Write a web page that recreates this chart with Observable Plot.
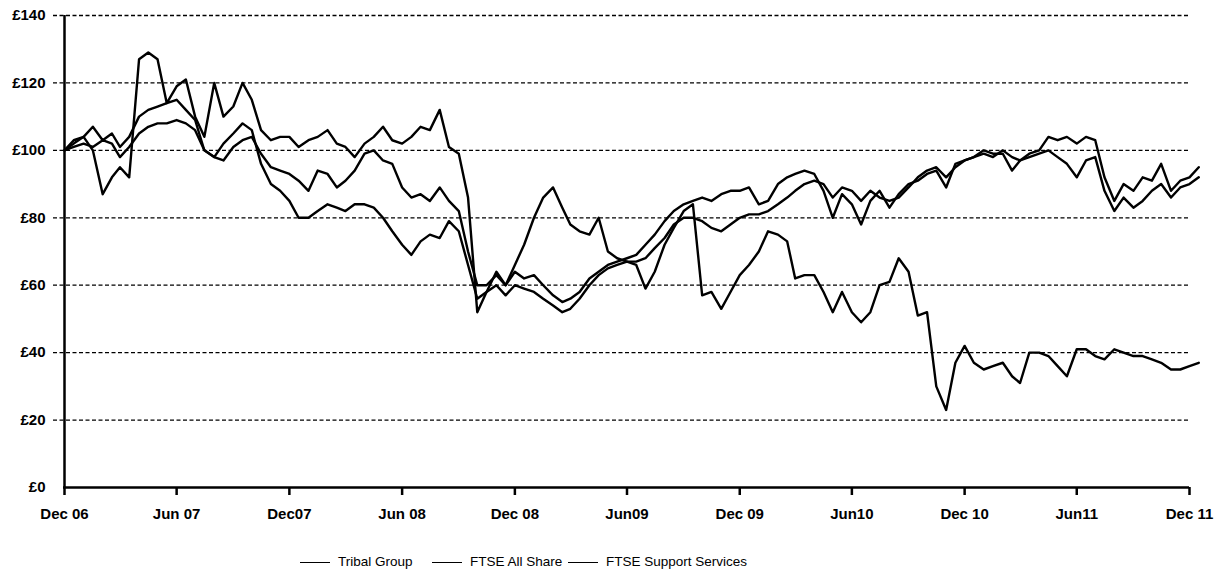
<!DOCTYPE html>
<html><head><meta charset="utf-8">
<script src="https://cdn.jsdelivr.net/npm/d3@7"></script>
<script src="https://cdn.jsdelivr.net/npm/@observablehq/plot@0.6"></script>
<style>
body{margin:0;background:#fff;font-family:"Liberation Sans",Arial,sans-serif;}
#legend{position:relative;width:1220px;height:31px;font-size:13.5px;color:#000;}
.item{position:absolute;top:14px;height:16px;line-height:16px;display:flex;align-items:center;gap:8px;white-space:nowrap;}
.swatch{width:30px;height:0;border-top:1.6px solid #000;}
</style></head><body>
<div id="chart"></div>
<div id="legend"></div>
<script>
const dates = [
"2006-12-01","2006-12-16","2007-01-01","2007-01-16","2007-02-01","2007-02-16","2007-03-01","2007-03-16","2007-04-01","2007-04-16","2007-05-01","2007-05-16",
"2007-06-01","2007-06-16","2007-07-01","2007-07-16","2007-08-01","2007-08-16","2007-09-01","2007-09-16","2007-10-01","2007-10-16","2007-11-01","2007-11-16",
"2007-12-01","2007-12-16","2008-01-01","2008-01-16","2008-02-01","2008-02-16","2008-03-01","2008-03-16","2008-04-01","2008-04-16","2008-05-01","2008-05-16",
"2008-06-01","2008-06-16","2008-07-01","2008-07-16","2008-08-01","2008-08-16","2008-09-01","2008-09-16","2008-10-01","2008-10-16","2008-11-01","2008-11-16",
"2008-12-01","2008-12-16","2009-01-01","2009-01-16","2009-02-01","2009-02-16","2009-03-01","2009-03-16","2009-04-01","2009-04-16","2009-05-01","2009-05-16",
"2009-06-01","2009-06-16","2009-07-01","2009-07-16","2009-08-01","2009-08-16","2009-09-01","2009-09-16","2009-10-01","2009-10-16","2009-11-01","2009-11-16",
"2009-12-01","2009-12-16","2010-01-01","2010-01-16","2010-02-01","2010-02-16","2010-03-01","2010-03-16","2010-04-01","2010-04-16","2010-05-01","2010-05-16",
"2010-06-01","2010-06-16","2010-07-01","2010-07-16","2010-08-01","2010-08-16","2010-09-01","2010-09-16","2010-10-01","2010-10-16","2010-11-01","2010-11-16",
"2010-12-01","2010-12-16","2011-01-01","2011-01-16","2011-02-01","2011-02-16","2011-03-01","2011-03-16","2011-04-01","2011-04-16","2011-05-01","2011-05-16",
"2011-06-01","2011-06-16","2011-07-01","2011-07-16","2011-08-01","2011-08-16","2011-09-01","2011-09-16","2011-10-01","2011-10-16","2011-11-01","2011-11-16",
"2011-12-01","2011-12-16"
];
const tribalGroup = [
100,103,104,100,87,92,95,92,127,129,127,114,
119,121,110,104,120,110,113,120,115,106,103,104,
104,101,103,104,106,102,101,98,102,104,107,103,
102,104,107,106,112,101,99,86,52,58,64,60,
66,72,80,86,89,83,78,76,75,80,70,68,
67,66,59,64,72,77,82,84,57,58,53,58,
63,66,70,76,75,73,62,63,63,58,52,58,
52,49,52,60,61,68,64,51,52,30,23,37,
42,37,35,36,37,33,31,40,40,39,36,33,
41,41,39,38,41,40,39,39,38,37,35,35,
36,37
];
const ftseAllShare = [
100,101,102,101,103,102,98,101,105,107,108,108,
109,108,106,100,98,97,101,103,104,99,95,94,
93,91,88,94,93,89,91,94,99,100,97,96,
89,86,87,85,89,85,82,70,60,60,63,60,
64,62,63,60,57,55,56,58,62,64,66,67,
68,69,72,75,79,82,84,85,86,85,87,88,
88,89,84,85,90,92,93,94,93,88,80,87,
84,78,85,88,83,87,90,91,93,94,89,96,
97,98,100,99,99,94,97,98,99,100,98,96,
92,97,98,88,82,86,83,85,88,90,86,89,
90,92
];
const ftseSupportServices = [
100,102,104,107,103,105,101,104,110,112,113,114,
115,112,109,100,98,102,105,108,106,96,90,88,
85,80,80,82,84,83,82,84,84,83,80,76,
72,69,73,75,74,79,76,66,56,58,60,57,
60,59,58,56,54,52,53,56,60,63,65,66,
67,67,68,71,74,78,80,80,79,77,76,78,
80,81,81,82,84,86,88,90,91,90,86,89,
88,85,88,86,85,86,89,92,94,95,92,95,
97,98,99,98,100,98,97,99,100,104,103,104,
102,104,103,92,85,90,88,92,91,96,88,91,
92,95
];
const seriesNames = ["Tribal Group","FTSE All Share","FTSE Support Services"];
const yTicks = [0,20,40,60,80,100,120,140];
const xTickDates = ["2006-12-01","2007-06-01","2007-12-01","2008-06-01","2008-12-01","2009-06-01","2009-12-01","2010-06-01","2010-12-01","2011-06-01","2011-12-01"];
const xTickLabels = ["Dec 06","Jun 07","Dec07","Jun 08","Dec 08","Jun09","Dec 09","Jun10","Dec 10","Jun11","Dec 11"];

const seriesValues = [tribalGroup, ftseAllShare, ftseSupportServices];
const rows = [];
seriesNames.forEach((name, k) => {
  dates.forEach((d, i) => rows.push({date: new Date(d + "T00:00:00Z"), value: seriesValues[k][i], series: name}));
});
const tickDates = xTickDates.map(d => new Date(d + "T00:00:00Z"));
const labelMap = new Map(tickDates.map((d, i) => [+d, xTickLabels[i]]));

const chart = Plot.plot({
  width: 1220, height: 540,
  marginLeft: 64, marginRight: 31, marginTop: 15, marginBottom: 53,
  style: {fontFamily: "'Liberation Sans', Arial, sans-serif", fontSize: "15px", color: "#000", background: "#fff"},
  x: {type: "utc", domain: [tickDates[0], tickDates[tickDates.length - 1]]},
  y: {domain: [0, 140]},
  marks: [
    Plot.ruleY(yTicks.filter(v => v > 0), {stroke: "#000", strokeWidth: 1.3, strokeDasharray: "4,2.5", insetLeft: -11}),
    Plot.line(rows, {x: "date", y: "value", z: "series", stroke: "#000", strokeWidth: 2.4, strokeLinejoin: "round"}),
    Plot.ruleX([tickDates[0]], {stroke: "#000", strokeWidth: 2.5}),
    Plot.ruleY([0], {stroke: "#000", strokeWidth: 2.5, insetLeft: -1}),
    Plot.axisX({ticks: tickDates, tickFormat: d => labelMap.get(+d), tickSize: 8, strokeWidth: 2.5, tickPadding: 13, fontSize: 15, fontWeight: "bold", label: null}),
    Plot.axisY({ticks: yTicks, tickFormat: d => "£" + d, tickSize: 0, tickPadding: 19, fontSize: 15, fontWeight: "bold", label: null})
  ]
});
document.getElementById("chart").appendChild(chart);

const legend = document.getElementById("legend");
const legendLeft = [300, 432, 568];
seriesNames.forEach((name, i) => {
  const item = document.createElement("div");
  item.className = "item";
  item.style.left = legendLeft[i] + "px";
  const sw = document.createElement("span");
  sw.className = "swatch";
  if (i === 0) sw.style.borderTopWidth = "1.2px";
  const tx = document.createElement("span");
  tx.textContent = name;
  item.appendChild(sw); item.appendChild(tx);
  legend.appendChild(item);
});
</script>
</body></html>
